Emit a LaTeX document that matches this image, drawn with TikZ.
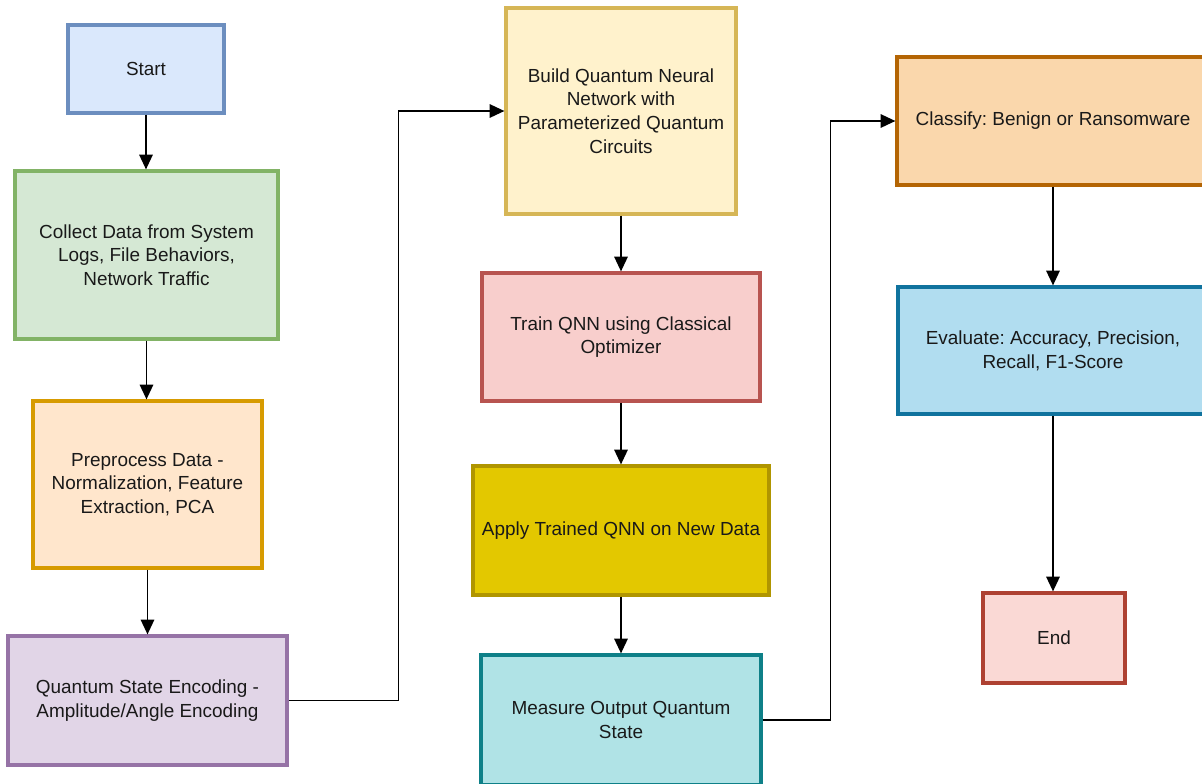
\documentclass[tikz,border=0pt]{standalone}
\usepackage{fontspec}
\setmainfont{Liberation Sans}
\frenchspacing
\usetikzlibrary{arrows.meta}
\definecolor{startF}{HTML}{DAE8FC}\definecolor{startD}{HTML}{6C8EBF}
\definecolor{collF}{HTML}{D5E8D4}\definecolor{collD}{HTML}{82B366}
\definecolor{preF}{HTML}{FFE6CC}\definecolor{preD}{HTML}{D79B00}
\definecolor{encF}{HTML}{E1D5E7}\definecolor{encD}{HTML}{9673A6}
\definecolor{buildF}{HTML}{FFF2CC}\definecolor{buildD}{HTML}{D6B656}
\definecolor{trainF}{HTML}{F8CECC}\definecolor{trainD}{HTML}{B85450}
\definecolor{applyF}{HTML}{E3C800}\definecolor{applyD}{HTML}{B09500}
\definecolor{measF}{HTML}{B0E3E6}\definecolor{measD}{HTML}{0E8088}
\definecolor{classF}{HTML}{FAD7AC}\definecolor{classD}{HTML}{B46504}
\definecolor{evalF}{HTML}{B1DDF0}\definecolor{evalD}{HTML}{10739E}
\definecolor{endF}{HTML}{FAD9D5}\definecolor{endD}{HTML}{AE4132}
\tikzset{
  flowbox/.style={draw, rectangle, line width=2.4pt, align=center, inner sep=0pt,
    font=\fontsize{14.2}{17.8}\selectfont, text=black!90},
  arr/.style={draw=black, line width=1.3pt, -{Triangle[length=11pt,width=10pt]}}
}
\begin{document}
\begin{tikzpicture}[x=0.75pt,y=-0.75pt]
\useasboundingbox (0,0) rectangle (1202,783);
\clip (0,0) rectangle (1202,783);
\node[flowbox, fill=startF, draw=startD, minimum width=117pt, minimum height=66pt] (start) at (146,69) {Start};
\node[flowbox, fill=collF, draw=collD, minimum width=197.25pt, minimum height=126pt] (collect) at (146.5,255) {Collect Data from System\\Logs, File Behaviors,\\Network Traffic};
\node[flowbox, fill=preF, draw=preD, minimum width=171.75pt, minimum height=125.25pt] (pre) at (147.5,484.5) {Preprocess Data -\\Normalization, Feature\\Extraction, PCA};
\node[flowbox, fill=encF, draw=encD, minimum width=209.25pt, minimum height=96.75pt] (enc) at (147.5,700.5) {Quantum State Encoding -\\Amplitude/Angle Encoding};
\node[flowbox, fill=buildF, draw=buildD, minimum width=172.5pt, minimum height=154.5pt] (build) at (621,111) {Build Quantum Neural\\Network with\\Parameterized Quantum\\Circuits};
\node[flowbox, fill=trainF, draw=trainD, minimum width=208.5pt, minimum height=96pt] (train) at (621,337) {Train QNN using Classical\\Optimizer};
\node[flowbox, fill=applyF, draw=applyD, minimum width=222pt, minimum height=96.75pt] (apply) at (621,530.5) {Apply Trained QNN on New Data};
\node[flowbox, fill=measF, draw=measD, minimum width=210pt, minimum height=97.5pt] (meas) at (621,720) {Measure Output Quantum\\State};
\node[flowbox, fill=classF, draw=classD, minimum width=234pt, minimum height=96pt] (classify) at (1053,121) {Classify: Benign or Ransomware};
\node[flowbox, fill=evalF, draw=evalD, minimum width=232.5pt, minimum height=95.25pt] (eval) at (1053,350.5) {Evaluate: Accuracy, Precision,\\Recall, F1-Score};
\node[flowbox, fill=endF, draw=endD, minimum width=106.5pt, minimum height=67.5pt] (end) at (1054,638) {End};

\draw[arr] (start.south) -- (start.south |- collect.north);
\draw[arr] (collect.south) -- (collect.south |- pre.north);
\draw[arr] (pre.south) -- (pre.south |- enc.north);
\draw[arr] (enc.east) -- ++(110,0) |- (build.west);
\draw[arr] (build.south) -- (train.north);
\draw[arr] (train.south) -- (apply.north);
\draw[arr] (apply.south) -- (meas.north);
\draw[arr] (meas.east) -- ++(68,0) |- (classify.west);
\draw[arr] (classify.south) -- (eval.north);
\draw[arr] (eval.south) -- (eval.south |- end.north);
\end{tikzpicture}
\end{document}
